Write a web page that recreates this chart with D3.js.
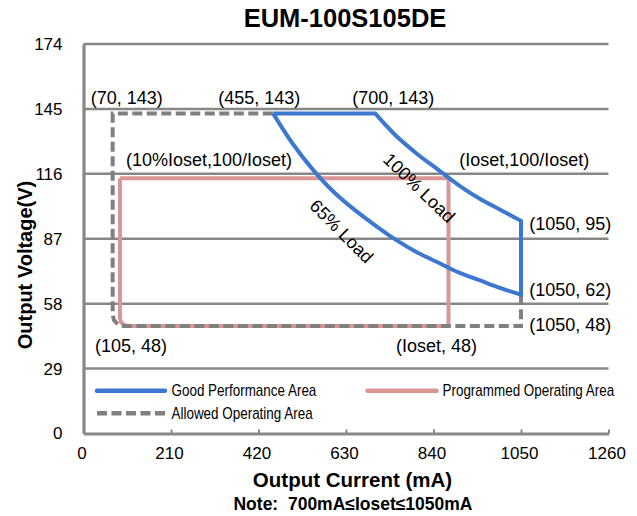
<!DOCTYPE html>
<html>
<head>
<meta charset="utf-8">
<script src="https://cdn.jsdelivr.net/npm/d3@7"></script>
<style>
  html, body { margin: 0; padding: 0; background: #fff; }
  svg { display: block; }
  text { font-family: "Liberation Sans", Arial, sans-serif; fill: #000; }
</style>
</head>
<body>
<svg id="chart" width="637" height="516"></svg>
<script>
// ---- data ----
const xTicks = [0, 210, 420, 630, 840, 1050, 1260];
const yTicks = [0, 29, 58, 87, 116, 145, 174];

// Good Performance Area (blue)
const goodTop = [[455, 143], [700, 143]];
const load100 = [[700, 143], [750, 133], [800, 125], [850, 118], [900, 111], [950, 105], [1000, 100], [1050, 95]];
const goodRight = [[1050, 95], [1050, 62]];
const load65 = [[1050, 62], [1000, 65], [950, 68.5], [900, 72], [850, 76.5], [800, 81], [750, 86.5], [700, 93], [650, 100], [600, 108], [550, 118], [500, 130], [455, 143]];

// Programmed Operating Area (pink)
const programmed = [[87.5, 114], [876, 114], [876, 48], [106.5, 48], [97, 48.5], [90, 49.8], [87.5, 51.6], [87.5, 114]];

// Allowed Operating Area (gray dashed)
const allowed = [[1050, 62], [1050, 48], [96, 48], [83, 48.7], [73.5, 50.5], [70, 52.9], [70, 143], [455, 143]];

const legendItems = ["Good Performance Area", "Programmed Operating Area", "Allowed Operating Area"];

const annotations = [
  {t: "(70, 143)", x: 70, y: 143},
  {t: "(455, 143)", x: 455, y: 143},
  {t: "(700, 143)", x: 700, y: 143},
  {t: "(10%Ioset,100/Ioset)", x: 87.5, y: 114},
  {t: "(Ioset,100/Ioset)", x: 876, y: 114},
  {t: "(1050, 95)", x: 1050, y: 95},
  {t: "(1050, 62)", x: 1050, y: 62},
  {t: "(1050, 48)", x: 1050, y: 48},
  {t: "(Ioset, 48)", x: 876, y: 48},
  {t: "(105, 48)", x: 105, y: 48}
];

// ---- layout ----
const svg = d3.select("#chart");
const x = d3.scaleLinear().domain([0, 1260]).range([83.5, 608.5]);
const y = d3.scaleLinear().domain([0, 174]).range([433.5, 44]);

const BLUE = "#3d78d0", PINK = "#d99694", GRAY = "#808080", GRID = "#878787";

// gridlines
svg.append("g").selectAll("line").data(yTicks.filter(d => d > 0)).join("line")
  .attr("x1", x(0)).attr("x2", x(1260))
  .attr("y1", d => y(d)).attr("y2", d => y(d))
  .attr("stroke", GRID).attr("stroke-width", 2.5);

// x axis
const xAxis = svg.append("g").attr("transform", `translate(0,${y(0)})`)
  .call(d3.axisBottom(x).tickValues(xTicks).tickFormat(d3.format("d"))
    .tickSizeInner(-4).tickSizeOuter(0).tickPadding(13));
xAxis.select(".domain").attr("stroke", GRID).attr("stroke-width", 3.2);
xAxis.selectAll(".tick line").attr("stroke", GRID).attr("stroke-width", 2);
xAxis.selectAll(".tick text").attr("font-size", 17).attr("font-family", "Liberation Sans, Arial, sans-serif")
  .attr("fill", "#000").attr("dx", -2);

// y axis
const yAxis = svg.append("g").attr("transform", `translate(${x(0)},0)`)
  .call(d3.axisLeft(y).tickValues(yTicks).tickFormat(d3.format("d")).tickSize(0).tickPadding(21));
yAxis.select(".domain").attr("stroke", GRID).attr("stroke-width", 3.2);
yAxis.selectAll(".tick text").attr("font-size", 17).attr("font-family", "Liberation Sans, Arial, sans-serif").attr("fill", "#000");

// series
const lineL = d3.line().x(d => x(d[0])).y(d => y(d[1]));
const lineC = d3.line().x(d => x(d[0])).y(d => y(d[1])).curve(d3.curveCatmullRom);

svg.append("path").attr("d", lineL(programmed))
  .attr("fill", "none").attr("stroke", PINK).attr("stroke-width", 4).attr("stroke-linejoin", "round");

svg.append("path").attr("d", lineL(allowed))
  .attr("fill", "none").attr("stroke", GRAY).attr("stroke-width", 4).attr("stroke-dasharray", "10,4.5");

const bluePath = lineL(goodTop) + lineC(load100).replace(/^M/, "L") +
  lineL(goodRight).replace(/^M/, "L") + lineC(load65).replace(/^M/, "L");
svg.append("path").attr("d", bluePath)
  .attr("fill", "none").attr("stroke", BLUE).attr("stroke-width", 4).attr("stroke-linejoin", "miter");

// annotations (label offset in px from its data point: [dx, dy])
const annOffsets = [
  [-22, -9.4], [-54.8, -9.4], [-22.9, -9.4], [6, -12.3], [10.8, -12.3],
  [8.3, 9.2], [8.3, 1.3], [8.3, 4.9], [-52.5, 25.6], [-32.3, 25.6]
];
svg.append("g").selectAll("text").data(annotations).join("text")
  .attr("x", (d, i) => x(d.x) + annOffsets[i][0])
  .attr("y", (d, i) => y(d.y) + annOffsets[i][1])
  .attr("font-size", 18)
  .text(d => d.t);

// rotated load labels
svg.append("text").attr("transform", "translate(419,188) rotate(44)")
  .attr("text-anchor", "middle").attr("dominant-baseline", "central").attr("font-size", 18).text("100% Load");
svg.append("text").attr("transform", "translate(341.5,231.5) rotate(45)")
  .attr("text-anchor", "middle").attr("dominant-baseline", "central").attr("font-size", 18).text("65% Load");

// legend (condensed text: horizontally scaled)
const legend = svg.append("g");
const legendPos = [
  {x1: 97, x2: 165, y: 390.7, tx: 171.5, ty: 396, color: BLUE, dash: null},
  {x1: 367.5, x2: 436.5, y: 390.7, tx: 442.5, ty: 396, color: PINK, dash: null},
  {x1: 97, x2: 165, y: 413.3, tx: 171.5, ty: 418.5, color: GRAY, dash: "10,4.5"}
];
legendItems.forEach((name, i) => {
  const p = legendPos[i];
  legend.append("line").attr("x1", p.x1).attr("x2", p.x2).attr("y1", p.y).attr("y2", p.y)
    .attr("stroke", p.color).attr("stroke-width", 4.5)
    .attr("stroke-linecap", p.dash ? "butt" : "round")
    .attr("stroke-dasharray", p.dash);
  legend.append("text")
    .attr("transform", `translate(${p.tx},${p.ty}) scale(0.84,1)`)
    .attr("font-size", 16)
    .text(name);
});

// titles
svg.append("text").attr("x", 345).attr("y", 27).attr("text-anchor", "middle")
  .attr("font-size", 25.5).attr("font-weight", "bold").text("EUM-100S105DE");
svg.append("text").attr("x", 352.5).attr("y", 487).attr("text-anchor", "middle")
  .attr("font-size", 20.5).attr("font-weight", "bold").text("Output Current (mA)");
svg.append("text").attr("x", 353).attr("y", 509.5).attr("text-anchor", "middle")
  .attr("font-size", 17.5).attr("font-weight", "bold").style("white-space", "pre")
  .text("Note:  700mA\u2264Ioset\u22641050mA");
svg.append("text").attr("transform", "translate(32,265) rotate(-90)").attr("text-anchor", "middle")
  .attr("font-size", 20).attr("font-weight", "bold").text("Output Voltage(V)");
</script>
</body>
</html>
